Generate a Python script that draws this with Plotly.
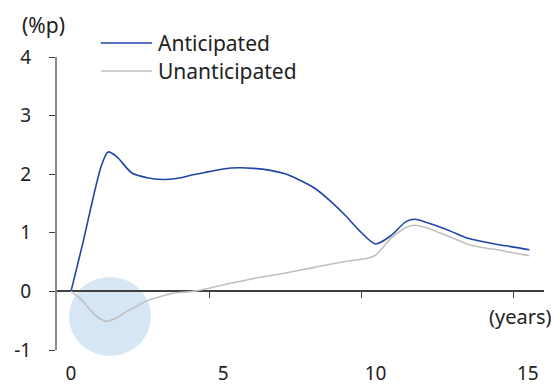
import plotly.graph_objects as go

# Impulse responses (%p) by horizon in years
ant_years = [0, 0.4, 0.75, 1.0, 1.22, 1.5, 2.0, 2.5, 3.0, 3.5, 4.0, 4.5, 5.0, 5.5, 6.0,
             6.5, 7.0, 7.5, 8.0, 8.5, 9.0, 9.5, 10.0, 10.5, 11.0, 11.3, 11.6, 12.0,
             12.5, 13.0, 13.5, 14.0, 14.5, 15.05]
ant_values = [0, 0.85, 1.65, 2.15, 2.38, 2.30, 2.02, 1.94, 1.91, 1.93, 1.99, 2.04, 2.09,
              2.11, 2.10, 2.07, 2.01, 1.90, 1.76, 1.55, 1.30, 1.02, 0.81, 0.95, 1.19,
              1.23, 1.19, 1.12, 1.02, 0.91, 0.85, 0.80, 0.76, 0.71]

unant_years = [0, 0.3, 0.62, 0.9, 1.17, 1.5, 1.83, 2.2, 2.59, 3.0, 3.36, 4.0, 5.0, 6.0,
               7.0, 8.0, 9.0, 9.7, 10.0, 10.5, 11.0, 11.3, 11.7, 12.1, 12.5, 13.0,
               13.5, 14.0, 14.5, 15.05]
unant_values = [0, -0.12, -0.31, -0.45, -0.51, -0.45, -0.34, -0.24, -0.14, -0.08, -0.03,
                0.0, 0.11, 0.22, 0.31, 0.41, 0.51, 0.56, 0.62, 0.90, 1.09, 1.13, 1.08,
                1.00, 0.92, 0.81, 0.75, 0.71, 0.66, 0.61]

x_labels = [0, 5, 10, 15]
x_tick_marks = [4.54, 9.54, 14.54]
y_ticks = [-1, 0, 1, 2, 3, 4]
y_tick_text = ["-1", "0", "1", "2", "3", "4"]

series_names = ["Anticipated", "Unanticipated"]
series_colors = ["#1f45a6", "#c0c0c0"]

FONT = "Noto Sans"
TXT = "#222222"

fig = go.Figure()
fig.add_trace(go.Scatter(x=ant_years, y=ant_values, mode="lines", name=series_names[0],
                         line=dict(color=series_colors[0], width=1.6, shape="spline",
                                   smoothing=0.8),
                         xaxis="x", yaxis="y", showlegend=False))
fig.add_trace(go.Scatter(x=unant_years, y=unant_values, mode="lines", name=series_names[1],
                         line=dict(color=series_colors[1], width=1.6, shape="spline",
                                   smoothing=0.8),
                         xaxis="x2", yaxis="y", showlegend=False))

# highlighted trough of the unanticipated response
fig.add_shape(type="circle", xref="paper", yref="paper",
              x0=0.0246, x1=0.193, y0=-0.0205, y1=0.249,
              fillcolor="#d7e6f4", line=dict(width=0), layer="below")

# hand-drawn legend
legend_y = [1.048, 0.952]
for name, color, ly in zip(series_names, series_colors, legend_y):
    fig.add_shape(type="line", xref="paper", yref="paper",
                  x0=0.090, x1=0.195, y0=ly, y1=ly,
                  line=dict(color=color, width=1.6))
    fig.add_annotation(text=name, xref="paper", yref="paper", x=0.203, y=ly,
                       xanchor="left", yanchor="middle", showarrow=False,
                       font=dict(family=FONT, size=21, color=TXT))

fig.add_annotation(text="(%p)", xref="paper", yref="paper", x=-0.075, y=1.109,
                   xanchor="left", yanchor="middle", showarrow=False,
                   font=dict(family=FONT, size=21, color=TXT))
fig.add_annotation(text="(years)", xref="paper", yref="paper", x=1.02, y=0.116,
                   xanchor="right", yanchor="middle", showarrow=False,
                   font=dict(family=FONT, size=20, color=TXT))

fig.update_layout(
    width=554, height=385,
    margin=dict(l=57, r=10, t=57, b=35),
    paper_bgcolor="white", plot_bgcolor="rgba(0,0,0,0)",
    font=dict(family=FONT, size=19, color=TXT),
    xaxis=dict(range=[-0.46, 15.53], tickvals=x_labels, ticktext=[str(v) for v in x_labels],
               showline=False, showgrid=False, zeroline=False, ticks="",
               ticklabelstandoff=10, automargin=False, fixedrange=True),
    xaxis2=dict(matches="x", overlaying="x", anchor="free", position=0.2,
                tickvals=x_tick_marks, showticklabels=False, showline=False,
                showgrid=False, zeroline=False, ticks="outside", ticklen=6,
                tickwidth=1.2, tickcolor="#404040", automargin=False),
    yaxis=dict(range=[-1, 4], tickvals=y_ticks, ticktext=y_tick_text, showgrid=False,
               zeroline=True, zerolinecolor="#404040", zerolinewidth=1.5,
               showline=True, linecolor="#8a8a8a", linewidth=2,
               ticks="outside", ticklen=6, tickwidth=1.2, tickcolor="#404040",
               ticklabelstandoff=14, automargin=False, fixedrange=True),
)

fig.write_html("out.html")
